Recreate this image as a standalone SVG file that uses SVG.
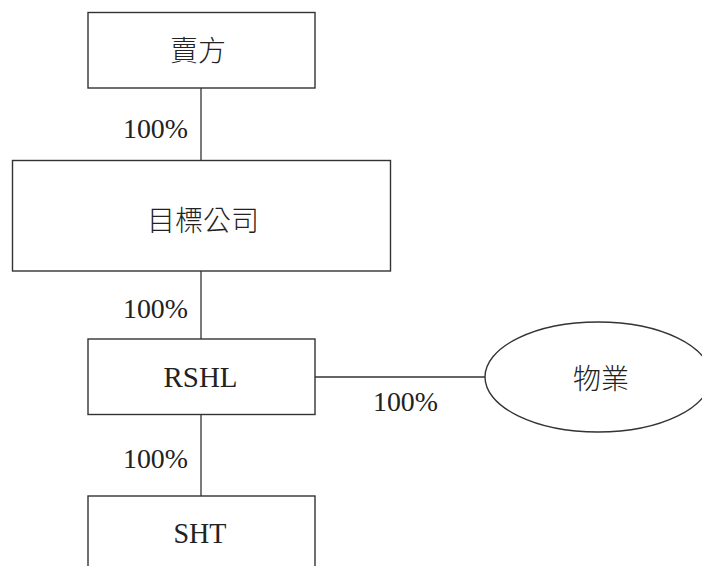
<svg xmlns="http://www.w3.org/2000/svg" width="702" height="566" viewBox="0 0 702 566">
<style>
.box{fill:#fff;stroke:#333;stroke-width:1.4}
.ln{stroke:#333;stroke-width:1.3;fill:none}
.cjk{font-family:"Noto Sans CJK TC","Noto Sans CJK SC",sans-serif;font-size:28px;font-weight:300;fill:#222;text-anchor:middle;dominant-baseline:central}
.lat{font-family:"Liberation Serif",serif;font-size:30px;fill:#222;text-anchor:middle}
.pct{font-family:"Liberation Serif",serif;font-size:28px;fill:#222}
</style>
<rect width="702" height="566" fill="#fff"/>
<g id="connectors">
<line class="ln" x1="201" y1="88" x2="201" y2="160"/>
<line class="ln" x1="201" y1="271" x2="201" y2="339"/>
<line class="ln" x1="201" y1="414" x2="201" y2="496"/>
<line class="ln" x1="315" y1="377" x2="485" y2="377"/>
<text class="pct" x="123" y="137.7" textLength="65" lengthAdjust="spacingAndGlyphs">100%</text>
<text class="pct" x="123" y="317.7" textLength="65" lengthAdjust="spacingAndGlyphs">100%</text>
<text class="pct" x="373" y="411" textLength="65" lengthAdjust="spacingAndGlyphs">100%</text>
<text class="pct" x="123" y="468.3" textLength="65" lengthAdjust="spacingAndGlyphs">100%</text>
</g>
<g id="seller">
<rect class="box" x="88" y="12.5" width="227" height="75.5"/>
<text class="cjk" x="198" y="48.5">賣方</text>
</g>
<g id="target">
<rect class="box" x="12.5" y="160.5" width="378" height="110.5"/>
<text class="cjk" x="203" y="218.5">目標公司</text>
</g>
<g id="rshl">
<rect class="box" x="88" y="339" width="227" height="75.5"/>
<text class="lat" x="200.5" y="387.3" textLength="74" lengthAdjust="spacingAndGlyphs">RSHL</text>
</g>
<g id="property">
<ellipse class="box" cx="598" cy="377" rx="113" ry="55"/>
<text class="cjk" x="601" y="377">物業</text>
</g>
<g id="sht">
<rect class="box" x="88" y="496" width="227" height="100"/>
<text class="lat" x="200" y="543.3" textLength="53" lengthAdjust="spacingAndGlyphs">SHT</text>
</g>
</svg>
